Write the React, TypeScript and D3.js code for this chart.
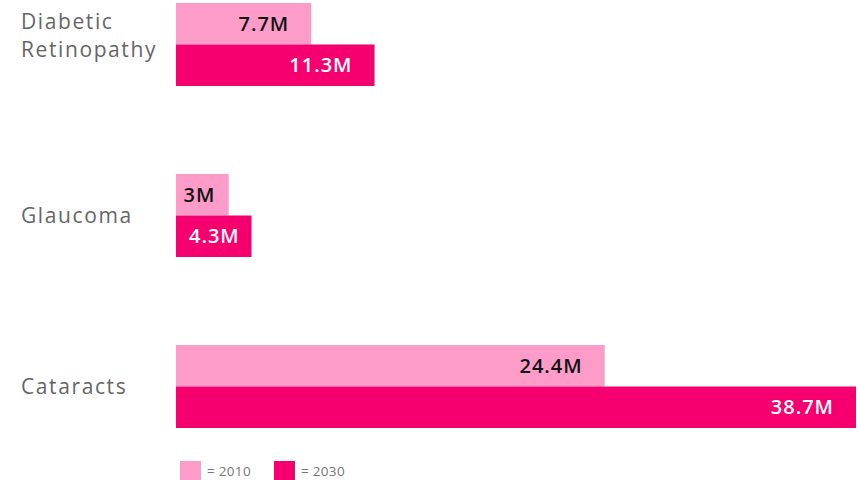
import * as d3 from 'd3';

const categories = ['Diabetic Retinopathy', 'Glaucoma', 'Cataracts'];
const years = ['2010', '2030'];
const values2010 = [7.7, 3, 24.4];
const values2030 = [11.3, 4.3, 38.7];
const valueLabels2010 = ['7.7M', '3M', '24.4M'];
const valueLabels2030 = ['11.3M', '4.3M', '38.7M'];

const COLORS: Record<string, string> = { '2010': '#fd9bc9', '2030': '#f6006f' };
const TEXT_COLORS: Record<string, string> = { '2010': '#111111', '2030': '#ffffff' };
const FONT = '"Open Sans", "DejaVu Sans", sans-serif';

export default function App() {
  const width = 860;
  const height = 480;
  const left = 176;

  const x = d3.scaleLinear().domain([0, 38.7]).range([left, 856]);
  const y = d3.scaleBand<string>().domain(categories).range([3, 428]).paddingInner(0.5146).paddingOuter(0);
  const inner = d3.scaleBand<string>().domain(years).range([0, y.bandwidth()]).padding(0);

  const rows = categories.flatMap((c, i) => [
    { cat: c, year: '2010', v: values2010[i], label: valueLabels2010[i] },
    { cat: c, year: '2030', v: values2030[i], label: valueLabels2030[i] },
  ]);

  return (
    <svg width={width} height={height} style={{ position: 'absolute', left: 0, top: 0, display: 'block' }}
      fontFamily={FONT}>
      {rows.map((r) => {
        const y0 = (y(r.cat) ?? 0) + (inner(r.year) ?? 0);
        const w = x(r.v) - x(0);
        const textW = r.label.length * 13;
        const pad = Math.min(22, Math.max(6, (w - textW) / 2));
        return (
          <g key={r.cat + r.year}>
            <rect x={x(0)} y={y0} width={w} height={inner.bandwidth()} fill={COLORS[r.year]} />
            <text x={x(r.v) - pad} y={y0 + inner.bandwidth() / 2} dy="0.36em" textAnchor="end"
              fontSize={20} fontWeight={600} fill={TEXT_COLORS[r.year]} letterSpacing={1}>
              {r.label}
            </text>
          </g>
        );
      })}
      {categories.map((c) => {
        const words = c.split(' ');
        const cy = (y(c) ?? 0) + y.bandwidth() / 2;
        const lh = 28;
        const shift = words.length > 1 ? -9 : 0;
        return (
          <text key={c} x={21} y={cy + shift - ((words.length - 1) * lh) / 2} fontSize={21} fill="#666666" letterSpacing={1.6}>
            {words.map((w, i) => (
              <tspan key={w} x={21} dy={i === 0 ? '0.35em' : lh}>{w}</tspan>
            ))}
          </text>
        );
      })}
      {years.map((yr, i) => (
        <g key={yr} transform={`translate(${180 + i * 94},461)`}>
          <rect width={21} height={21} fill={COLORS[yr]} />
          <text x={27} y={10} dy="0.35em" fontSize={13.5} fill="#777777" letterSpacing={0.3}>= {yr}</text>
        </g>
      ))}
    </svg>
  );
}
